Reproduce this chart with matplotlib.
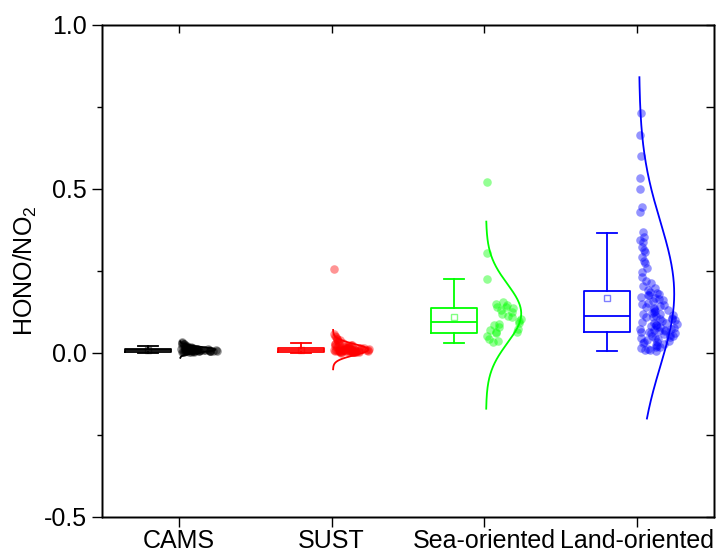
import matplotlib
matplotlib.use('Agg')
import matplotlib.pyplot as plt
from matplotlib.colors import to_rgba
from matplotlib.ticker import MultipleLocator
import numpy as np

plt.rcParams['font.family'] = ['Liberation Sans', 'DejaVu Sans']
plt.rcParams['mathtext.fontset'] = 'custom'
plt.rcParams['mathtext.rm'] = 'Liberation Sans'
plt.rcParams['mathtext.it'] = 'Liberation Sans:italic'

############################################
#   Data
############################################
categories = ['CAMS', 'SUST', 'Sea-oriented', 'Land-oriented']
colors     = ['#000000', '#ff0000', '#00ff00', '#0000ff']

cams = [0.002, 0.003, 0.004, 0.004, 0.005, 0.005, 0.005, 0.006, 0.006, 0.006,
        0.007, 0.007, 0.007, 0.007, 0.008, 0.008, 0.008, 0.008, 0.009, 0.009,
        0.009, 0.010, 0.010, 0.010, 0.010, 0.011, 0.011, 0.011, 0.012, 0.012,
        0.013, 0.013, 0.014, 0.014, 0.015, 0.016, 0.017, 0.018, 0.019, 0.020,
        0.021, 0.022, 0.024, 0.026, 0.028, 0.031, 0.034, 0.006, 0.009, 0.012,
        0.004, 0.007, 0.010, 0.013, 0.016, 0.005, 0.008, 0.011, 0.003, 0.009]

sust = [0.001, 0.002, 0.002, 0.003, 0.003, 0.004, 0.004, 0.004, 0.005, 0.005,
        0.005, 0.006, 0.006, 0.006, 0.007, 0.007, 0.007, 0.008, 0.008, 0.008,
        0.009, 0.009, 0.010, 0.010, 0.010, 0.011, 0.011, 0.012, 0.012, 0.013,
        0.013, 0.014, 0.014, 0.015, 0.016, 0.017, 0.018, 0.019, 0.020, 0.021,
        0.022, 0.024, 0.026, 0.028, 0.031, 0.034, 0.038, 0.043, 0.049, 0.057,
        0.003, 0.005, 0.007, 0.009, 0.011, 0.004, 0.006, 0.008, 0.012, 0.015,
        0.002, 0.006, 0.010, 0.014, 0.018, 0.023, 0.027, 0.035, 0.041, 0.052,
        0.256]

sea = [0.520, 0.303, 0.224, 0.155, 0.150, 0.145, 0.141, 0.139, 0.136, 0.130,
       0.124, 0.118, 0.111, 0.109, 0.104, 0.098, 0.091, 0.088, 0.085, 0.079,
       0.074, 0.069, 0.065, 0.063, 0.060, 0.052, 0.043, 0.037, 0.032]

land = [0.732, 0.664, 0.600, 0.532, 0.498, 0.444, 0.430, 0.369, 0.354, 0.345,
        0.339, 0.324, 0.315, 0.308, 0.293, 0.280, 0.273, 0.258, 0.245, 0.232,
        0.220, 0.212, 0.205, 0.198, 0.192,
        0.186, 0.183, 0.180, 0.176, 0.175, 0.171, 0.168, 0.164, 0.160, 0.157,
        0.153, 0.150, 0.146, 0.143, 0.140, 0.136, 0.133, 0.130, 0.127, 0.124,
        0.122, 0.119, 0.117, 0.115, 0.113,
        0.110, 0.108, 0.106, 0.104, 0.102, 0.099, 0.097, 0.095, 0.092, 0.090,
        0.088, 0.086, 0.084, 0.082, 0.080, 0.078, 0.076, 0.074, 0.072, 0.071,
        0.069, 0.068, 0.066, 0.065, 0.064,
        0.062, 0.060, 0.058, 0.055, 0.053, 0.051, 0.048, 0.046, 0.044, 0.041,
        0.039, 0.037, 0.034, 0.032, 0.029, 0.027, 0.024, 0.022, 0.019, 0.017,
        0.014, 0.012, 0.010, 0.008, 0.006]

groups = [cams, sust, sea, land]

# box statistics: whisker low, Q1, median, Q3, whisker high, mean
whis_lo = [0.000, 0.000, 0.030, 0.006]
q1      = [0.004, 0.004, 0.061, 0.063]
median  = [0.008, 0.008, 0.094, 0.112]
q3      = [0.011, 0.014, 0.137, 0.188]
whis_hi = [0.021, 0.029, 0.225, 0.365]
means   = [0.009, 0.010, 0.109, 0.167]

# normal distribution curves: mean, sd and the drawn y-range
curve_mean = [0.010, 0.010, 0.120, 0.180]
curve_sd   = [0.008, 0.017, 0.090, 0.220]
curve_lo   = [-0.015, -0.050, -0.170, -0.200]
curve_hi   = [0.035, 0.070, 0.400, 0.840]

############################################
#   Figure setup
############################################
FS = 18
fig = plt.figure(figsize=(7.18, 5.54), dpi=100)
ax = fig.add_axes([0.1421, 0.0668, 0.8523, 0.8886])

positions = np.arange(1, len(categories) + 1)
box_off, box_w, cap_w = -0.2, 0.30, 0.13
pts_w, curve_w = 0.245, 0.23

stats = []
for i in range(len(categories)):
    stats.append(dict(whislo=whis_lo[i], q1=q1[i], med=median[i], q3=q3[i],
                      whishi=whis_hi[i], mean=means[i], fliers=[]))

for i, c in enumerate(colors):
    ax.bxp([stats[i]], positions=[positions[i] + box_off], widths=box_w,
           capwidths=cap_w, showmeans=True, showfliers=False,
           boxprops=dict(color=c, lw=1.3),
           whiskerprops=dict(color=c, lw=1.3),
           capprops=dict(color=c, lw=1.3),
           medianprops=dict(color=c, lw=1.3),
           meanprops=dict(marker='s', markersize=5, markerfacecolor='none',
                          markeredgecolor=to_rgba(c, 0.5), markeredgewidth=1),
           manage_ticks=False)

    # jittered points, spread by local density (deterministic hash for jitter)
    v = np.asarray(groups[i], dtype=float)
    bw = 0.3 * np.std(v)
    dens = np.exp(-(v[:, None] - v[None, :]) ** 2 / (2 * bw ** 2)).sum(axis=1)
    dens = dens / dens.max()
    idx = np.arange(len(v)) + 1.0
    frac = (np.sin(idx * 12.9898 + i) * 43758.5453) % 1.0
    xoff = 0.015 + pts_w * dens * frac
    ax.scatter(positions[i] + xoff, v, s=38, color=c, alpha=0.42,
               linewidths=0, zorder=3)

    # normal curve
    yy = np.linspace(curve_lo[i], curve_hi[i], 300)
    pdf = np.exp(-(yy - curve_mean[i]) ** 2 / (2 * curve_sd[i] ** 2))
    ax.plot(positions[i] + 0.01 + curve_w * pdf, yy, color=c, lw=1.3, zorder=4)

ax.set_xlim(0.5, 4.5)
ax.set_ylim(-0.5, 1.0)
ax.set_xticks(positions)
ax.set_xticklabels(categories, fontsize=FS)
ax.yaxis.set_minor_locator(MultipleLocator(0.25))
ax.set_yticks([-0.5, 0.0, 0.5, 1.0])
ax.set_yticklabels(['-0.5', '0.0', '0.5', '1.0'], fontsize=FS)
ax.tick_params(axis='y', which='major', direction='out', length=7, width=1, pad=4)
ax.tick_params(axis='x', which='major', direction='out', length=7, width=1, pad=1.5)
ax.tick_params(axis='y', which='minor', direction='out', length=3.5, width=1)
ax.tick_params(axis='x', which='minor', bottom=False)
ax.set_ylabel('HONO/NO$_2$', fontsize=FS, labelpad=3)
for sp in ax.spines.values():
    sp.set_linewidth(1.0)

# mirrored axes with inward ticks
axr = ax.twinx()
axr.set_ylim(ax.get_ylim())
axr.yaxis.set_major_locator(MultipleLocator(0.5))
axr.yaxis.set_minor_locator(MultipleLocator(0.25))
axr.tick_params(axis='y', which='both', direction='in', length=6, width=1, labelright=False)
axt = ax.twiny()
axt.set_xlim(ax.get_xlim())
axt.set_xticks(positions)
axt.tick_params(axis='x', direction='in', length=6, width=1, labeltop=False)
for a in (axr, axt):
    for sp in a.spines.values():
        sp.set_linewidth(1.0)

fig.savefig('out.png', dpi=100)
